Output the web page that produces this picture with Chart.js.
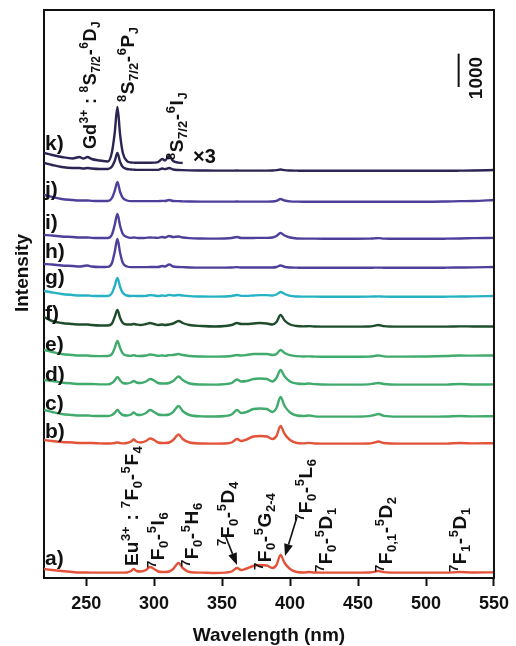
<!DOCTYPE html>
<html lang="en">
<head>
<meta charset="UTF-8">
<title>Excitation spectra</title>
<script src="https://cdn.jsdelivr.net/npm/chart.js"></script>
<style>
  body { margin: 0; background: #fff; }
</style>
</head>
<body>
<canvas id="grafico" width="516" height="646"></canvas>
<script>
// excitation wavelengths (nm)
var wl = [
  219, 225, 232, 240, 245, 248, 251, 254, 260, 266,
  269, 271, 273, 275, 277, 280, 283, 285, 287, 290,
  294, 297, 300, 303, 306, 308, 311, 314, 318, 321,
  326, 335, 345, 352, 357, 361, 364, 368, 373, 378,
  383, 387, 390, 393, 396, 400, 405, 410, 414, 418,
  430, 445, 458, 462, 465, 469, 480, 500, 515, 525,
  535, 550
]

// intensities (counts) above each trace's own baseline
var specA = [
  120, 90, 60, 30, 15, 15, 15, 10, 10, 10,
  10, 10, 10, 10, 10, 15, 60, 120, 60, 45,
  90, 180, 120, 45, 30, 30, 45, 120, 300, 150,
  30, 10, 0, 10, 45, 150, 90, 135, 210, 240,
  225, 150, 240, 540, 300, 120, 30, 15, 30, 15,
  10, 10, 15, 35, 60, 25, 10, 10, 10, 30,
  15, 20
]
var specB = [
  120, 90, 60, 45, 30, 30, 30, 30, 20, 15,
  20, 30, 45, 30, 20, 30, 75, 135, 75, 45,
  90, 165, 120, 45, 30, 30, 45, 120, 285, 150,
  45, 15, 10, 15, 45, 150, 90, 135, 225, 240,
  225, 150, 240, 540, 300, 120, 30, 20, 35, 15,
  10, 10, 15, 45, 75, 30, 10, 10, 12, 30,
  18, 24
]
var specC = [
  210, 150, 90, 60, 45, 45, 45, 35, 30, 30,
  60, 120, 210, 120, 60, 45, 75, 135, 75, 60,
  120, 210, 150, 75, 60, 60, 75, 150, 330, 180,
  60, 20, 15, 30, 75, 210, 120, 150, 240, 255,
  240, 150, 270, 600, 330, 135, 45, 30, 45, 20,
  10, 10, 25, 60, 90, 35, 12, 10, 15, 30,
  18, 24
]
var specD = [
  150, 120, 75, 45, 30, 30, 30, 30, 20, 20,
  60, 135, 240, 135, 60, 45, 75, 120, 75, 60,
  105, 180, 135, 60, 45, 45, 60, 120, 255, 150,
  45, 15, 10, 25, 60, 165, 105, 120, 180, 195,
  180, 105, 210, 450, 255, 105, 45, 30, 45, 25,
  10, 10, 18, 45, 60, 30, 10, 10, 12, 30,
  15, 18
]
var specE = [
  210, 150, 90, 60, 45, 45, 45, 30, 25, 30,
  90, 270, 480, 270, 105, 45, 35, 55, 35, 30,
  45, 75, 60, 35, 45, 35, 55, 60, 90, 60,
  30, 15, 10, 15, 30, 60, 45, 60, 90, 90,
  90, 60, 90, 210, 120, 55, 25, 15, 20, 12,
  6, 6, 12, 30, 45, 20, 10, 15, 30, 45,
  40, 45
]
var specF = [
  300, 180, 120, 90, 75, 75, 75, 60, 45, 45,
  105, 300, 510, 270, 120, 75, 75, 90, 75, 60,
  90, 120, 90, 60, 75, 60, 75, 105, 180, 120,
  60, 30, 15, 30, 60, 120, 90, 90, 105, 120,
  105, 75, 150, 360, 195, 75, 30, 20, 25, 15,
  10, 10, 15, 35, 60, 25, 10, 10, 10, 20,
  15, 15
]
var specG = [
  180, 135, 90, 60, 45, 45, 45, 35, 30, 30,
  120, 330, 570, 300, 120, 45, 30, 35, 30, 30,
  35, 55, 45, 30, 45, 35, 65, 45, 60, 45,
  25, 15, 10, 15, 30, 60, 35, 35, 45, 55,
  55, 45, 75, 150, 90, 35, 15, 10, 10, 10,
  6, 6, 10, 15, 20, 12, 6, 6, 10, 15,
  18, 30
]
var specH = [
  120, 105, 75, 60, 45, 60, 75, 45, 30, 35,
  150, 480, 870, 450, 150, 45, 25, 25, 25, 25,
  25, 30, 30, 30, 60, 45, 105, 45, 30, 25,
  15, 10, 10, 10, 15, 25, 15, 15, 15, 15,
  15, 15, 30, 75, 35, 15, 10, 6, 6, 6,
  6, 6, 6, 10, 12, 8, 6, 6, 10, 15,
  20, 30
]
var specI = [
  120, 105, 75, 60, 45, 45, 45, 35, 30, 30,
  135, 420, 750, 390, 150, 60, 35, 45, 35, 30,
  35, 45, 40, 35, 60, 45, 90, 60, 75, 45,
  25, 15, 10, 15, 30, 60, 30, 30, 30, 35,
  35, 45, 90, 180, 105, 45, 15, 10, 10, 10,
  6, 6, 10, 18, 25, 12, 6, 6, 10, 15,
  25, 35
]
var specJ = [
  210, 150, 90, 60, 45, 45, 45, 35, 30, 30,
  120, 330, 600, 300, 120, 45, 25, 25, 25, 25,
  25, 25, 25, 25, 35, 30, 60, 30, 25, 20,
  15, 10, 10, 10, 10, 15, 10, 10, 10, 10,
  10, 15, 35, 90, 45, 20, 10, 6, 6, 6,
  6, 6, 6, 6, 8, 6, 6, 6, 15, 25,
  30, 60
]
var specK = [
  240, 180, 120, 90, 90, 75, 90, 75, 60, 60,
  135, 300, 540, 270, 120, 60, 45, 40, 35, 35,
  35, 35, 35, 35, 75, 55, 90, 45, 30, 25,
  20, 15, 10, 10, 10, 15, 10, 10, 10, 10,
  10, 15, 25, 45, 25, 15, 10, 6, 6, 6,
  6, 6, 6, 6, 8, 6, 6, 6, 6, 10,
  15, 30
]
// trace k magnified three times, Gd3+ region only (first 30 wavelengths)
var specK3 = [
  300, 240, 180, 135, 180, 135, 180, 120, 75, 45,
  330, 900, 1680, 840, 300, 60, 15, 10, 6, 6,
  6, 6, 10, 30, 120, 75, 210, 60, 10, 0
]

var traceNames = ['a)', 'b)', 'c)', 'd)', 'e)', 'f)', 'g)', 'h)', 'i)', 'j)', 'k)']
var traceOffsets = [150, 4020, 4830, 5790, 6630, 7530, 8430, 9300, 10170, 11280, 12210]
var k3Offset = 12450
var xTicks = [250, 300, 350, 400, 450, 500, 550]
var scaleBarValue = 1000

var allSpectra = [specA, specB, specC, specD, specE, specF, specG, specH, specI, specJ, specK]
var colores = ['#e3533a', '#e3533a', '#40ab6c', '#40ab6c', '#40ab6c', '#1f4d2c',
               '#27b2c4', '#4c409a', '#4c409a', '#4c409a', '#2a2553']

var FONT = '"Liberation Sans", Arial, sans-serif'

// text placement (canvas pixels); rotated ones read bottom to top
var curveLabelY = [565, 438, 410, 381, 351, 320, 284, 258, 229, 196, 150]
var notas = [
  { t: 'Gd^{3+} : ^8S_{7/2}-^6D_J', x: 96, y: 149, s: 18 },
  { t: '^8S_{7/2}-^6P_J', x: 134, y: 102 },
  { t: '^8S_{7/2}-^6I_J', x: 183, y: 160 },
  { t: 'Eu^{3+} : ^7F_0-^5F_4', x: 138, y: 566 },
  { t: '^7F_0-^5I_6', x: 164, y: 568 },
  { t: '^7F_0-^5H_6', x: 198, y: 567 },
  { t: '^7F_0-^5D_4', x: 234, y: 546 },
  { t: '^7F_0-^5G_{2-4}', x: 271, y: 570 },
  { t: '^7F_0-^5L_6', x: 312, y: 521 },
  { t: '^7F_0-^5D_1', x: 332, y: 572 },
  { t: '^7F_{0,1}-^5D_2', x: 392, y: 572 },
  { t: '^7F_1-^5D_1', x: 466, y: 572 }
]
var setas = [
  { from: [225, 535], to: [237, 565] },
  { from: [297, 517], to: [285, 556] }
]

// splits "S_{7/2}" style strings into normal / sup / sub pieces
function parseRich(str) {
  var parts = []
  var buf = ''
  var i = 0
  while (i < str.length) {
    var ch = str[i]
    if (ch === '^' || ch === '_') {
      if (buf) { parts.push([buf, 'n']); buf = '' }
      var kind = ch === '^' ? 'sup' : 'sub'
      i++
      var t
      if (str[i] === '{') {
        var j = str.indexOf('}', i)
        t = str.slice(i + 1, j)
        i = j + 1
      } else {
        t = str[i]
        i++
      }
      parts.push([t, kind])
    } else {
      buf += ch
      i++
    }
  }
  if (buf) parts.push([buf, 'n'])
  return parts
}

function drawRich(ctx, x, y, str, size, rotated) {
  ctx.save()
  ctx.translate(x, y)
  if (rotated) ctx.rotate(-Math.PI / 2)
  ctx.fillStyle = '#111'
  ctx.textAlign = 'left'
  ctx.textBaseline = 'alphabetic'
  var cx = 0
  parseRich(str).forEach(function (p) {
    var small = p[1] !== 'n'
    ctx.font = 'bold ' + (small ? Math.round(size * 0.68) : size) + 'px ' + FONT
    var dy = p[1] === 'sup' ? -size * 0.42 : (p[1] === 'sub' ? size * 0.22 : 0)
    ctx.fillText(p[0], cx, dy)
    cx += ctx.measureText(p[0]).width + 0.6
  })
  ctx.restore()
}

function drawArrow(ctx, a, b) {
  var ang = Math.atan2(b[1] - a[1], b[0] - a[0])
  var hl = 12, hw = 4.5
  var bx = b[0] - hl * Math.cos(ang), by = b[1] - hl * Math.sin(ang)
  ctx.save()
  ctx.strokeStyle = '#111'
  ctx.fillStyle = '#111'
  ctx.lineWidth = 1.6
  ctx.beginPath()
  ctx.moveTo(a[0], a[1])
  ctx.lineTo(bx, by)
  ctx.stroke()
  ctx.beginPath()
  ctx.moveTo(b[0], b[1])
  ctx.lineTo(bx + hw * Math.sin(ang), by - hw * Math.cos(ang))
  ctx.lineTo(bx - hw * Math.sin(ang), by + hw * Math.cos(ang))
  ctx.closePath()
  ctx.fill()
  ctx.restore()
}

var decoracao = {
  id: 'decoracao',
  afterDraw: function (chart) {
    var ctx = chart.ctx
    var area = chart.chartArea
    var xs = chart.scales.x
    var ys = chart.scales.y

    // top and right edges of the frame
    ctx.save()
    ctx.strokeStyle = '#111'
    ctx.lineWidth = 2
    ctx.beginPath()
    ctx.moveTo(area.left - 1, area.top)
    ctx.lineTo(area.right, area.top)
    ctx.lineTo(area.right, area.bottom + 1)
    ctx.stroke()
    ctx.restore()

    // axis titles
    ctx.save()
    ctx.fillStyle = '#111'
    ctx.font = 'bold 19px ' + FONT
    ctx.textAlign = 'center'
    ctx.fillText('Wavelength (nm)', 269, 641)
    ctx.translate(28, 273)
    ctx.rotate(-Math.PI / 2)
    ctx.fillText('Intensity', 0, 0)
    ctx.restore()

    // trace labels
    ctx.save()
    ctx.fillStyle = '#111'
    ctx.font = 'bold 21px ' + FONT
    ctx.textAlign = 'left'
    traceNames.forEach(function (n, i) {
      ctx.fillText(n, area.left + 1, curveLabelY[i])
    })
    ctx.font = 'bold 20px ' + FONT
    ctx.fillText('\u00d73', 193, 163)
    ctx.restore()

    notas.forEach(function (n) { drawRich(ctx, n.x, n.y, n.t, n.s || 19, true) })
    setas.forEach(function (s) { drawArrow(ctx, s.from, s.to) })

    // intensity scale bar
    var bx = xs.getPixelForValue(524)
    var y0 = ys.getPixelForValue(14730)
    var y1 = ys.getPixelForValue(14730 + scaleBarValue)
    ctx.save()
    ctx.strokeStyle = '#111'
    ctx.lineWidth = 2
    ctx.beginPath()
    ctx.moveTo(bx, y0)
    ctx.lineTo(bx, y1)
    ctx.stroke()
    ctx.fillStyle = '#111'
    ctx.font = 'bold 19px ' + FONT
    ctx.textAlign = 'center'
    ctx.translate(482, 78)
    ctx.rotate(-Math.PI / 2)
    ctx.fillText(String(scaleBarValue), 0, 0)
    ctx.restore()
  }
}

var datasets = []
allSpectra.forEach(function (spec, i) {
  datasets.push({
    label: traceNames[i],
    data: spec.map(function (v, k) { return { x: wl[k], y: v + traceOffsets[i] } }),
    borderColor: colores[i],
    borderWidth: 2.4
  })
})
datasets.push({
  label: 'k) x3',
  data: specK3.map(function (v, k) { return { x: wl[k], y: v + k3Offset } }),
  borderColor: colores[10],
  borderWidth: 2.4
})

var ctx = document.getElementById('grafico')
new Chart(ctx, {
  type: 'line',
  data: { datasets: datasets },
  options: {
    responsive: false,
    animation: false,
    devicePixelRatio: 1,
    layout: { padding: { top: 10, right: 18, left: 0, bottom: 0 } },
    elements: {
      point: { radius: 0 },
      line: { cubicInterpolationMode: 'monotone', fill: false }
    },
    plugins: { legend: { display: false }, tooltip: { enabled: false } },
    scales: {
      x: {
        type: 'linear',
        min: 219,
        max: 550,
        afterBuildTicks: function (s) {
          s.ticks = xTicks.map(function (v) { return { value: v } })
        },
        afterFit: function (s) { s.height = 68 },
        ticks: {
          autoSkip: false,
          maxRotation: 0,
          padding: 7,
          color: '#111',
          font: { family: FONT, size: 18, weight: 'bold' }
        },
        grid: { drawOnChartArea: false, tickLength: 8, tickWidth: 2, tickColor: '#111' },
        border: { color: '#111', width: 2 }
      },
      y: {
        min: 0,
        max: 17040,
        ticks: { display: false },
        grid: { display: false },
        border: { color: '#111', width: 2 },
        afterFit: function (s) { s.width = 44 }
      }
    }
  },
  plugins: [decoracao]
})
</script>
</body>
</html>
